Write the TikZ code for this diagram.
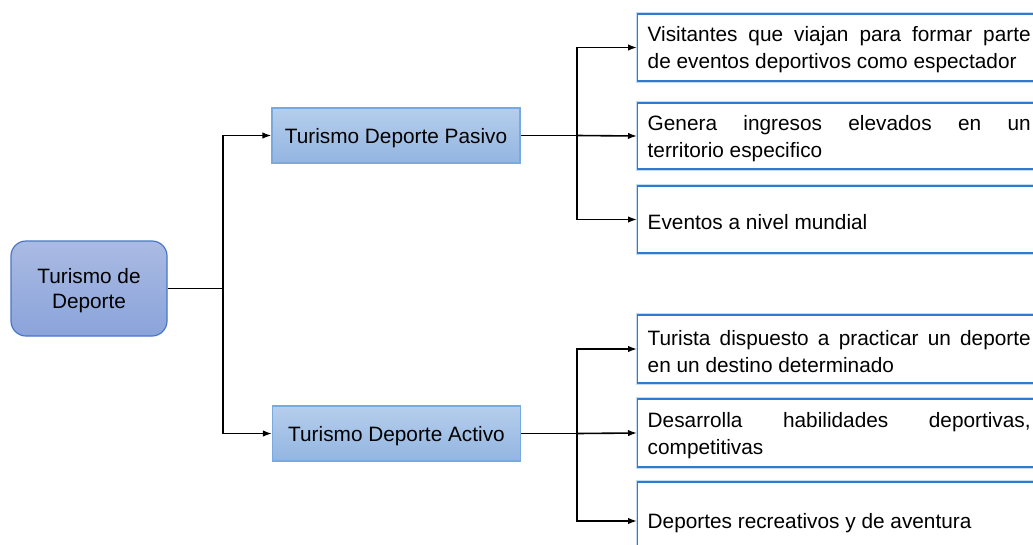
\documentclass[tikz,border=0pt]{standalone}
\usepackage{fontspec}
\setmainfont{Liberation Sans}
\usetikzlibrary{arrows.meta}
\definecolor{rootTop}{HTML}{AABBE3}
\definecolor{rootBot}{HTML}{8AA3DA}
\definecolor{rootLine}{HTML}{4A76C6}
\definecolor{midTop}{HTML}{B5CEEC}
\definecolor{midBot}{HTML}{93B5E1}
\definecolor{midLine}{HTML}{7AA9DD}
\definecolor{boxLine}{HTML}{2E7BD1}
\definecolor{boxGlow}{HTML}{C4DCF3}
\newcommand{\lowtxt}[1]{\raisebox{-2.5pt}[\height][\depth]{#1}}
\newcommand{\leaftxt}[1]{\lowtxt{\parbox{383pt}{\fontsize{20.8}{27}\selectfont #1}}}
\tikzset{
  rootbox/.style={draw=rootLine, line width=1.2pt, rounded corners=15pt,
    top color=rootTop, bottom color=rootBot, minimum width=156pt, minimum height=95pt,
    inner sep=0pt, font=\fontsize{20.8}{25}\selectfont},
  midbox/.style={draw=midLine, line width=1.2pt, top color=midTop, bottom color=midBot,
    minimum width=248pt, minimum height=55pt, inner sep=0pt, font=\fontsize{20.8}{25}\selectfont},
  leafbox/.style={preaction={draw=boxGlow, line width=3.5pt}, draw=boxLine, line width=1.4pt,
    fill=white, inner xsep=10pt, inner ysep=0pt, minimum width=403pt, anchor=west},
  conn/.style={line width=1.6pt, black},
  arr/.style={conn, -{Latex[length=9pt,width=6.5pt]}}
}
\begin{document}
\begin{tikzpicture}[x=1pt,y=-1pt]
\clip (0,0) rectangle (1033,544);
\fill[white] (0,0) rectangle (1033,544);
% main nodes
\node[rootbox] (R) at (89,288.5) {\lowtxt{\parbox{150pt}{\centering Turismo de\\Deporte}}};
\node[midbox] (P) at (396,135.5) {\lowtxt{Turismo Deporte Pasivo}};
\node[midbox] (A) at (396.5,433.5) {\lowtxt{Turismo Deporte Activo}};
% leaf nodes
\node[leafbox, minimum height=67pt] (b1) at (637,47.5) {\leaftxt{Visitantes que viajan para formar parte\linebreak de eventos deportivos como espectador}};
\node[leafbox, minimum height=66pt] (b2) at (637,136) {\leaftxt{Genera ingresos elevados en un\linebreak territorio especifico}};
\node[leafbox, minimum height=67pt] (b3) at (637,219.5) {\leaftxt{Eventos a nivel mundial}};
\node[leafbox, minimum height=68pt] (b4) at (637,349) {\leaftxt{Turista dispuesto a practicar un deporte\linebreak en un destino determinado}};
\node[leafbox, minimum height=68pt] (b5) at (637,433) {\leaftxt{Desarrolla habilidades deportivas,\linebreak competitivas}};
\node[leafbox, minimum height=78pt] (b6) at (637,521) {\leaftxt{Deportes recreativos y de aventura}};
% junctions
\coordinate (j0) at (223,288.5);
\coordinate (j1) at (577,135.5);
\coordinate (j2) at (577,433.5);
% connectors
\draw[conn] (R.east) -- (j0);
\draw[arr] (j0) |- (P.west);
\draw[arr] (j0) |- (A.west);
\draw[conn] (P.east) -- (j1);
\draw[arr] (j1) |- (b1.west);
\draw[arr] (j1) -- (b2.west);
\draw[arr] (j1) |- (b3.west);
\draw[conn] (A.east) -- (j2);
\draw[arr] (j2) |- (b4.west);
\draw[arr] (j2) -- (b5.west);
\draw[arr] (j2) |- (b6.west);
\end{tikzpicture}
\end{document}
